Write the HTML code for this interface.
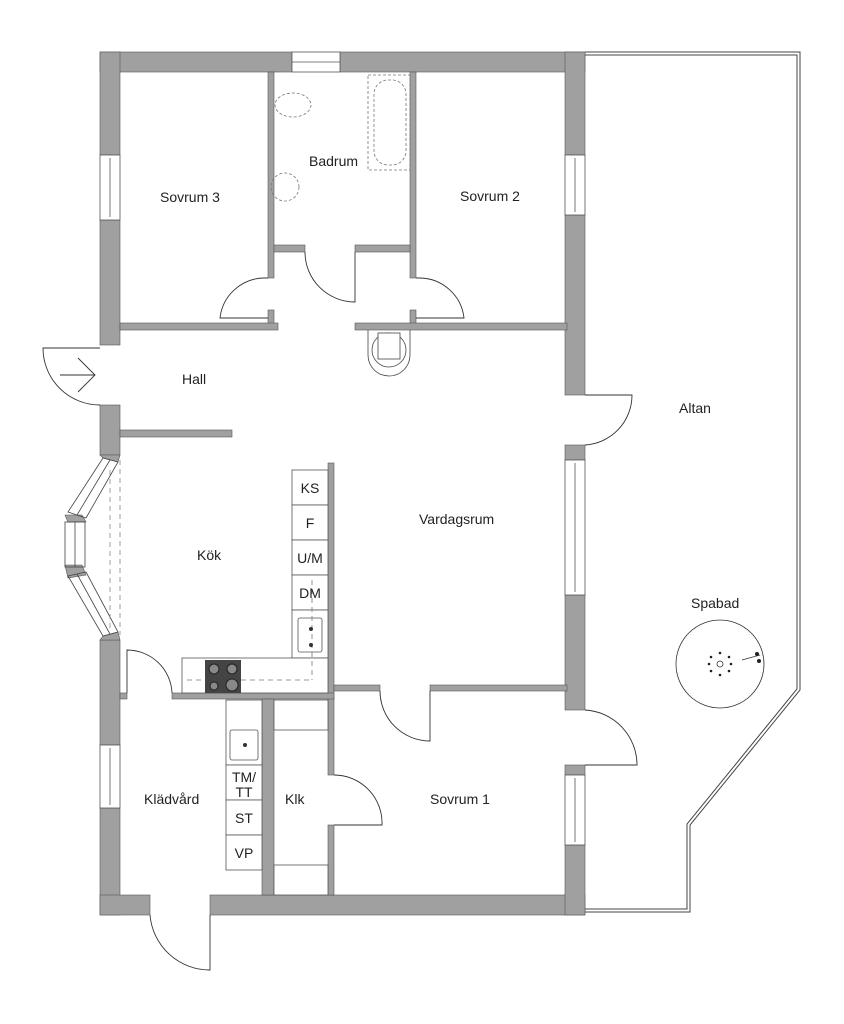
<!DOCTYPE html>
<html><head><meta charset="utf-8"><style>
html,body{margin:0;padding:0;background:#fff;}
svg{display:block}
text{font-family:"Liberation Sans",sans-serif;font-size:14px;fill:#222;}
</style></head><body>
<svg width="844" height="1024" viewBox="0 0 844 1024" xmlns="http://www.w3.org/2000/svg">
<!-- Altan -->
<path d="M585 52 L800 52 L800 690 L690 825 L690 912 L585 912" fill="none" stroke="#444" stroke-width="1"/>
<path d="M585 55 L797 55 L797 689 L687 824 L687 909 L585 909" fill="none" stroke="#444" stroke-width="1"/>
<g fill="#a0a0a0" stroke="#555" stroke-width="0.6">
<rect x="100" y="52" width="192" height="20"/>
<rect x="340" y="52" width="245" height="20"/>
<rect x="100" y="52" width="20" height="103"/>
<rect x="100" y="220" width="20" height="125"/>
<rect x="100" y="405" width="20" height="50"/>
<rect x="100" y="640" width="20" height="105"/>
<rect x="100" y="808" width="20" height="107"/>
<rect x="100" y="895" width="50" height="20"/>
<rect x="210" y="895" width="375" height="20"/>
<rect x="565" y="52" width="20" height="103"/>
<rect x="565" y="215" width="20" height="180"/>
<rect x="565" y="445" width="20" height="15"/>
<rect x="565" y="595" width="20" height="115"/>
<rect x="565" y="765" width="20" height="10"/>
<rect x="565" y="845" width="20" height="70"/>
<rect x="268" y="72" width="6" height="206"/>
<rect x="268" y="310" width="6" height="15"/>
<rect x="410" y="72" width="6" height="206"/>
<rect x="410" y="310" width="6" height="15"/>
<rect x="274" y="245" width="31" height="7"/>
<rect x="355" y="245" width="55" height="7"/>
<rect x="120" y="323" width="158" height="7"/>
<rect x="355" y="323" width="212" height="7"/>
<rect x="120" y="430" width="112" height="7"/>
<rect x="328" y="463" width="6" height="312"/>
<rect x="328" y="825" width="6" height="70"/>
<rect x="334" y="685" width="46" height="6"/>
<rect x="430" y="685" width="137" height="6"/>
<rect x="172" y="693" width="162" height="6"/>
<rect x="120" y="693" width="7" height="6"/>
<rect x="262" y="699" width="12" height="196"/>
</g>
<path d="M100 455 L80 460 L65 515 L65 570 L80 575 L100 640 L120 640 L120 455 Z" fill="#fff"/>
<g fill="#a0a0a0" stroke="#555" stroke-width="0.6">
<polygon points="100,455 120,455 118,462 103,458"/>
<polygon points="65,515 82,515 86,522 68,522"/>
<polygon points="65,565 82,565 86,575 68,578"/>
<polygon points="100,640 120,640 118,632 103,636"/>
</g>
<g fill="none" stroke="#444" stroke-width="0.8">
<polygon points="103,458 118,462 86,518 68,512"/>
<line x1="110" y1="460" x2="77" y2="515"/>
<rect x="65" y="522" width="20" height="45"/>
<line x1="75" y1="522" x2="75" y2="567"/>
<polygon points="68,576 86,572 118,632 103,636"/>
<line x1="77" y1="574" x2="110" y2="634"/>
</g>
<g stroke="#888" stroke-dasharray="5,4" stroke-width="0.8">
<line x1="110" y1="470" x2="110" y2="630"/><line x1="120" y1="460" x2="120" y2="635"/>
</g>
<g fill="#fff" stroke="#555" stroke-width="0.8">
<rect x="292" y="52" width="48" height="20"/><line x1="292" y1="62" x2="340" y2="62"/>
<rect x="100" y="155" width="20" height="65"/><line x1="110" y1="158" x2="110" y2="217"/>
<rect x="565" y="155" width="20" height="60"/><line x1="575" y1="158" x2="575" y2="212"/>
<rect x="565" y="460" width="20" height="135"/><line x1="575" y1="463" x2="575" y2="592"/>
<rect x="565" y="775" width="20" height="70"/><line x1="575" y1="778" x2="575" y2="842"/>
<rect x="100" y="745" width="20" height="63"/><line x1="110" y1="748" x2="110" y2="805"/>
</g>
<g fill="none" stroke="#333" stroke-width="0.9">
<path d="M268 278 L263 278 A45 45 0 0 0 220 318 L268 318"/>
<path d="M416 278 L420 278 A45 45 0 0 1 464 318 L416 318"/>
<path d="M305 252 A50 50 0 0 0 355 302 L355 252"/>
<path d="M100 348 L43 348 A57 57 0 0 0 100 405"/>
<path d="M60 375 L95 375 M78 358 L95 375 L78 392" />
<path d="M585 395 L632 395 A50 50 0 0 1 585 445"/>
<path d="M585 710 A55 55 0 0 1 637 765 L585 765"/>
<path d="M380 691 A50 50 0 0 0 430 741 L430 691"/>
<path d="M334 775 A48 48 0 0 1 382 825 L334 825"/>
<path d="M127 693 L127 650 A45 45 0 0 1 172 693"/>
<path d="M150 915 A60 60 0 0 0 210 970 L210 915"/>
</g>
<g fill="#fff" stroke="#555" stroke-width="0.8">
<rect x="292" y="470" width="36" height="35"/><rect x="292" y="505" width="36" height="35"/>
<rect x="292" y="540" width="36" height="35"/><rect x="292" y="575" width="36" height="35"/>
<rect x="292" y="610" width="36" height="48"/>
<rect x="182" y="658" width="146" height="35"/>
<rect x="226" y="700" width="36" height="65"/><rect x="226" y="765" width="36" height="35"/>
<rect x="226" y="800" width="36" height="35"/><rect x="226" y="835" width="36" height="35"/>
<rect x="274" y="700" width="54" height="30"/><rect x="274" y="865" width="54" height="30"/>
<rect x="298" y="618" width="24" height="34" rx="2"/>
<rect x="230" y="730" width="28" height="30" rx="2"/>
</g>
<g stroke="#777" stroke-dasharray="5,4" stroke-width="0.8" fill="none">
<line x1="312" y1="580" x2="312" y2="680"/><line x1="187" y1="680" x2="312" y2="680"/>
</g>
<rect x="205" y="660" width="36" height="33" fill="#444"/>
<g fill="#888" stroke="#222"><circle cx="214" cy="669" r="5"/><circle cx="232" cy="669" r="5"/><circle cx="214" cy="686" r="4"/><circle cx="232" cy="685" r="6"/></g>
<circle cx="311" cy="629" r="2" fill="#333"/><circle cx="311" cy="645" r="2" fill="#333"/><circle cx="245" cy="745" r="2" fill="#333"/>
<g fill="none" stroke="#777" stroke-dasharray="3,2" stroke-width="0.8">
<rect x="368" y="75" width="42" height="95"/>
<rect x="374" y="80" width="32" height="85" rx="14"/>
<ellipse cx="293" cy="105" rx="18" ry="12"/>
<circle cx="285" cy="187" r="14"/>
</g>
<g fill="none" stroke="#444" stroke-width="0.8">
<path d="M368 330 L368 355 A21 21 0 0 0 410 355 L410 330"/>
<circle cx="389" cy="350" r="17"/>
<rect x="378" y="333" width="22" height="26" fill="#fff"/>
</g>
<g fill="none" stroke="#333" stroke-width="0.8">
<ellipse cx="720" cy="664" rx="44" ry="44"/>
<circle cx="720" cy="664" r="3"/>
<line x1="742" y1="660" x2="760" y2="655"/>
</g>
<g fill="#222"><circle cx="720" cy="653" r="1.3"/><circle cx="729" cy="657" r="1.3"/><circle cx="731" cy="664" r="1.3"/><circle cx="729" cy="671" r="1.3"/><circle cx="720" cy="675" r="1.3"/><circle cx="711" cy="671" r="1.3"/><circle cx="709" cy="664" r="1.3"/><circle cx="711" cy="657" r="1.3"/><circle cx="757" cy="654" r="2"/><circle cx="759" cy="661" r="2"/></g>
<text x="160" y="202">Sovrum 3</text>
<text x="309" y="166">Badrum</text>
<text x="460" y="201">Sovrum 2</text>
<text x="182" y="384">Hall</text>
<text x="679" y="413">Altan</text>
<text x="419" y="524">Vardagsrum</text>
<text x="197" y="560">Kök</text>
<text x="691" y="608">Spabad</text>
<text x="430" y="804">Sovrum 1</text>
<text x="144" y="804">Klädvård</text>
<text x="285" y="804">Klk</text>
<g text-anchor="middle">
<text x="310" y="493">KS</text><text x="310" y="528">F</text><text x="310" y="563">U/M</text><text x="310" y="598">DM</text>
<text x="244" y="782">TM/</text><text x="244" y="797">TT</text><text x="244" y="823">ST</text><text x="244" y="858">VP</text>
</g>
</svg>
</body></html>
